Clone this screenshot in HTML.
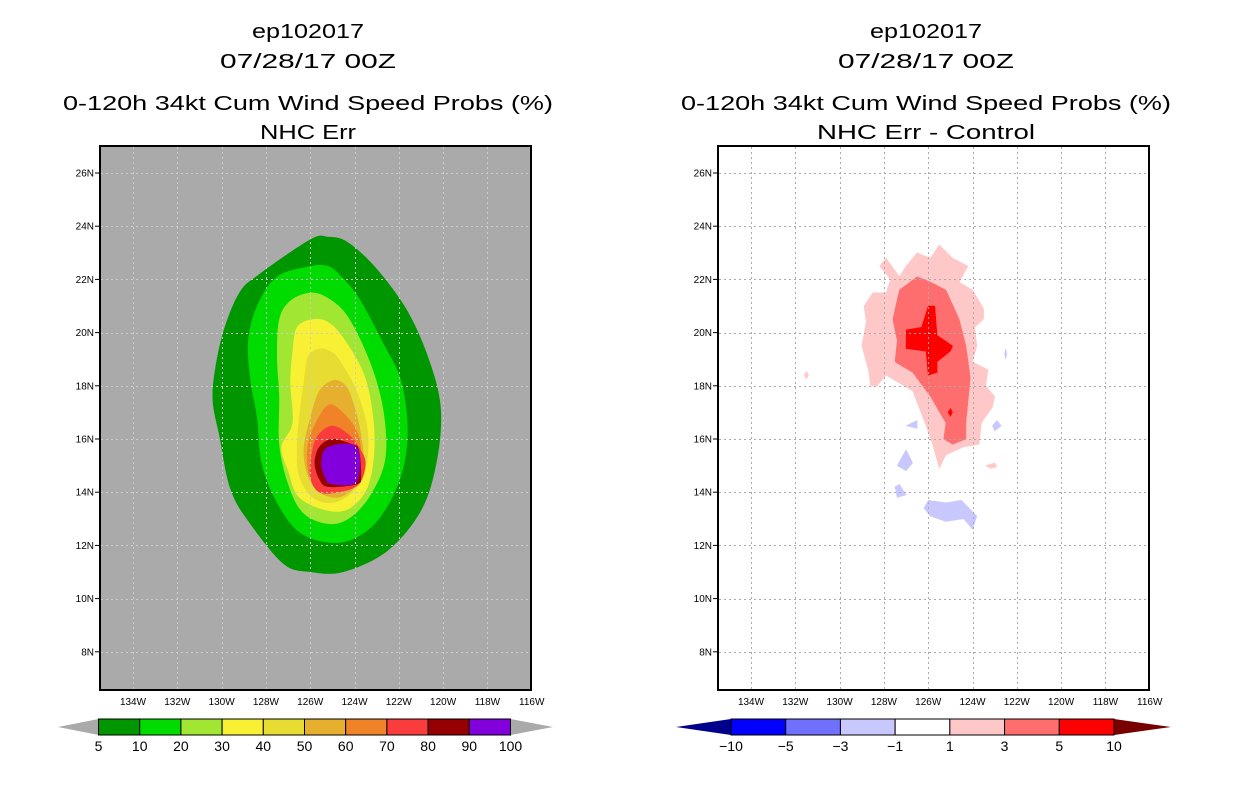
<!DOCTYPE html>
<html><head><meta charset="utf-8">
<style>
html,body{margin:0;padding:0;background:#fff;}
svg{display:block;font-family:"Liberation Sans",sans-serif;}
</style></head>
<body>
<svg id="chart" width="1236" height="800" viewBox="0 0 1236 800" xmlns="http://www.w3.org/2000/svg">
<defs>
<clipPath id="clipL"><rect x="100" y="146" width="431" height="544"/></clipPath>
<clipPath id="clipR"><rect x="718" y="146" width="431" height="544"/></clipPath>
</defs>
<rect width="1236" height="800" fill="#fff"/>
<g font-size="20" fill="#000" text-anchor="middle">
<text x="308" y="38" textLength="112" lengthAdjust="spacingAndGlyphs">ep102017</text>
<text x="308" y="68" textLength="176" lengthAdjust="spacingAndGlyphs">07/28/17 00Z</text>
<text x="308" y="110" textLength="490" lengthAdjust="spacingAndGlyphs">0-120h 34kt Cum Wind Speed Probs (%)</text>
<text x="308" y="139" textLength="96" lengthAdjust="spacingAndGlyphs">NHC Err</text>
</g>
<g font-size="20" fill="#000" text-anchor="middle">
<text x="926" y="38" textLength="112" lengthAdjust="spacingAndGlyphs">ep102017</text>
<text x="926" y="68" textLength="176" lengthAdjust="spacingAndGlyphs">07/28/17 00Z</text>
<text x="926" y="110" textLength="490" lengthAdjust="spacingAndGlyphs">0-120h 34kt Cum Wind Speed Probs (%)</text>
<text x="926" y="139" textLength="218" lengthAdjust="spacingAndGlyphs">NHC Err - Control</text>
</g>
<g id="left-panel"></g>
<g id="right-panel"></g>
<g id="cbars"></g>
</svg>
<script>
const lonTicks = [134,132,130,128,126,124,122,120,118,116];
const latTicks = [26,24,22,20,18,16,14,12,10,8];
const probLevels = [5,10,20,30,40,50,60,70,80,90];
const probColors = ["#009600","#00dc00","#a0e632","#f8f032","#e6dc32","#e6af2d","#f08228","#fa3c3c","#960000","#8200dc"];
const probLabels = ["5","10","20","30","40","50","60","70","80","90","100"];
const c5 = [[126.0,23.5],[128.3,22.2],[129.2,21.5],[129.9,20.1],[130.3,18.6],[130.4,17.4],[130.1,16.1],[129.6,14.1],[128.7,12.8],[127.2,11.3],[126.0,11.0],[124.5,11.0],[122.5,11.8],[121.0,13.3],[120.3,15.1],[120.1,17.1],[120.6,18.9],[121.6,20.8],[123.0,22.4],[124.3,23.4],[125.2,23.6]];
const c10 = [[126.0,22.5],[127.5,22.1],[128.4,21.0],[128.8,19.7],[128.7,18.2],[128.4,16.8],[128.2,15.1],[127.5,13.6],[126.5,12.5],[125.1,12.1],[123.9,12.3],[122.8,13.1],[121.9,14.6],[121.6,16.3],[121.9,18.2],[122.7,19.6],[123.8,21.3],[124.7,22.2],[125.2,22.5]];
const c20 = [[126.0,21.5],[126.9,21.2],[127.4,20.5],[127.5,19.1],[127.4,17.6],[127.4,15.8],[127.0,14.3],[126.3,13.2],[125.1,12.8],[124.1,13.1],[123.2,14.0],[122.6,15.3],[122.7,17.1],[123.3,18.9],[124.3,20.6],[125.2,21.3]];
const c30 = [[125.9,20.5],[126.6,20.2],[126.8,19.3],[126.9,18.1],[126.8,16.6],[127.3,15.7],[127.0,14.8],[126.5,13.8],[125.2,13.3],[124.2,13.4],[123.4,14.2],[123.1,15.6],[123.2,17.1],[123.6,18.5],[124.5,19.8],[125.2,20.4]];
const c40 = [[125.6,19.4],[126.1,19.1],[126.3,18.1],[126.5,16.8],[126.6,15.7],[126.5,14.6],[125.9,13.8],[125.0,13.6],[124.1,14.0],[123.5,14.8],[123.4,16.3],[123.9,17.8],[124.7,19.0],[125.1,19.3]];
const c50 = [[125.0,18.2],[125.6,17.8],[126.0,16.8],[126.3,15.6],[126.1,14.6],[125.6,14.0],[124.7,13.8],[123.9,14.3],[123.6,15.3],[123.8,16.6],[124.2,17.7],[124.5,18.1]];
const c60 = [[125.1,17.3],[125.7,16.7],[126.1,15.8],[126.1,14.8],[125.7,14.2],[124.8,14.0],[124.0,14.3],[123.7,15.1],[123.8,16.1],[124.3,16.8]];
const c70 = [[125.0,16.5],[125.6,16.2],[125.9,15.6],[126.0,14.6],[125.6,14.0],[124.7,14.0],[123.8,14.3],[123.5,15.1],[123.8,15.7],[124.3,16.2]];
const c80 = [[125.0,16.0],[125.6,15.7],[125.8,15.1],[125.6,14.5],[125.2,14.2],[123.9,14.3],[123.7,14.6],[123.8,15.6],[124.1,15.8]];
const c90 = [[125.2,15.7],[125.5,15.1],[125.3,14.5],[125.0,14.3],[123.9,14.4],[123.9,15.7]];
const probContours = [c5,c10,c20,c30,c40,c50,c60,c70,c80,c90];

const diffLabels = ["-10","-5","-3","-1","1","3","5","10"];
const diffColors = ["#00008c","#0000ff","#7070ff","#c8c8ff","#ffffff","#ffc8c8","#ff6e6e","#ff0000","#780000"];
const dPos1 = [[128.2,22.5],[127.9,22.8],[127.3,22.1],[127.0,22.5],[126.5,23.0],[125.9,22.8],[125.5,23.3],[124.9,22.8],[124.2,22.5],[124.6,21.9],[124.0,21.6],[123.5,20.9],[123.5,20.5],[123.9,20.2],[123.8,19.5],[124.0,18.9],[123.3,18.6],[123.4,18.0],[123.0,17.6],[123.1,17.2],[123.6,16.6],[123.7,15.8],[124.4,15.7],[125.2,15.4],[125.5,14.9],[125.8,15.8],[126.1,16.5],[126.7,17.8],[127.9,18.4],[128.3,18.0],[128.6,18.0],[128.7,18.6],[129.0,19.5],[128.8,20.4],[128.9,21.0],[128.5,21.5],[127.9,21.5],[127.7,22.0]];
const dPos1b = [[131.5,18.55],[131.4,18.4],[131.5,18.25],[131.6,18.4]];
const dPos1c = [[123.4,15.0],[123.0,15.1],[122.9,14.95],[123.2,14.9]];
const dPos3 = [[126.5,22.1],[127.3,21.6],[127.6,20.5],[127.4,19.7],[127.5,18.9],[126.7,18.5],[125.9,17.6],[125.2,16.6],[125.3,16.0],[124.9,15.8],[124.3,16.0],[124.3,16.6],[124.1,18.3],[124.3,19.5],[124.6,20.5],[125.2,21.6],[125.9,21.9]];
const dPos5 = [[126.0,21.0],[125.7,21.0],[125.6,19.9],[124.9,19.5],[125.0,19.3],[125.6,18.9],[125.6,18.5],[126.0,18.4],[126.1,19.3],[127.0,19.4],[127.0,20.1],[126.3,20.2]];
const dPos5b = [[125.0,17.15],[124.9,17.0],[125.0,16.85],[125.1,17.0]];
const dNeg1a = [[127.0,16.5],[126.5,16.7],[126.5,16.4]];
const dNeg1b = [[127.4,15.0],[127.0,15.6],[126.7,15.1],[127.0,14.8]];
const dNeg1c = [[127.5,14.2],[127.3,14.3],[127.0,13.9],[127.4,13.8]];
const dNeg1d = [[126.2,13.4],[126.0,13.7],[125.2,13.6],[124.5,13.7],[123.8,13.1],[124.0,12.6],[124.4,13.0],[125.2,12.9],[125.9,13.1]];
const dNeg1e = [[123.1,16.5],[122.9,16.7],[122.7,16.5],[123.0,16.3]];
const dNeg1f = [[122.5,19.4],[122.45,19.2],[122.5,19.0],[122.55,19.2]];
const diffShapes = [[dPos1,5],[dPos1b,5],[dPos1c,5],[dPos3,6],[dPos5,7],[dPos5b,7],[dNeg1a,3],[dNeg1b,3],[dNeg1c,3],[dNeg1d,3],[dNeg1e,3],[dNeg1f,3]];

const NS="http://www.w3.org/2000/svg";
const LON0=135.49, LAT0=27.015, PXLON=22.15, PXLAT=26.6;
function xScale(lon, ox){ return ox + (LON0-lon)*PXLON; }
function yScale(lat){ return 146 + (LAT0-lat)*PXLAT; }
function mk(tag, attrs, parent){ const e=document.createElementNS(NS,tag); for(const k in attrs) e.setAttribute(k,attrs[k]); parent.appendChild(e); return e; }
function polyStr(pts, ox){ return pts.map(p=>xScale(p[0],ox).toFixed(1)+","+yScale(p[1]).toFixed(1)).join(" "); }
function smoothPath(pts, ox){
  const P = pts.map(p=>[xScale(p[0],ox), yScale(p[1])]);
  const n=P.length; let d='M'+P[0][0].toFixed(1)+','+P[0][1].toFixed(1);
  for(let i=0;i<n;i++){
    const p0=P[(i-1+n)%n], p1=P[i], p2=P[(i+1)%n], p3=P[(i+2)%n];
    const c1=[p1[0]+(p2[0]-p0[0])/6, p1[1]+(p2[1]-p0[1])/6];
    const c2=[p2[0]-(p3[0]-p1[0])/6, p2[1]-(p3[1]-p1[1])/6];
    d+=' C'+c1[0].toFixed(1)+','+c1[1].toFixed(1)+' '+c2[0].toFixed(1)+','+c2[1].toFixed(1)+' '+p2[0].toFixed(1)+','+p2[1].toFixed(1);
  }
  return d+'Z';
}

function drawPanel(g, ox, bg, clipId, gridColor, drawContent){
  const r = mk('rect',{x:ox,y:146,width:431,height:544,fill:bg},g);
  
  
  const cg = mk('g',{'clip-path':'url(#'+clipId+')'},g);
  
  
  drawContent(cg);
  const gg = mk('g',{stroke:gridColor,'stroke-width':1,'stroke-dasharray':'2,3'},g);
  
  
  lonTicks.forEach(l=>{ const x=Math.round(xScale(l,ox))+0.5; if(x<ox+429) mk('line',{x1:x,y1:147,x2:x,y2:689},gg); });
  latTicks.forEach(l=>{ const y=Math.round(yScale(l))+0.5; mk('line',{x1:ox+1,y1:y,x2:ox+430,y2:y},gg); });
  const ax = mk('g',{'font-size':10,fill:'#000'},g);
  
  
  latTicks.forEach(l=>{ const y=yScale(l);
    mk('line',{x1:ox-5,y1:y,x2:ox,y2:y,stroke:'#000'},ax);
    const t=mk('text',{x:ox-6,y:y+3.5,'text-anchor':'end'},ax); t.textContent=l+'N';
    
     });
  lonTicks.forEach(l=>{ const x=xScale(l,ox);
    const t=mk('text',{x:x,y:705,'text-anchor':'middle'},ax); t.textContent=l+'W';
    
     });
  const b = mk('rect',{x:ox,y:146,width:431,height:544,fill:'none',stroke:'#000','stroke-width':2},g);
  
  
}

drawPanel(document.getElementById('left-panel'), 100, '#aaaaaa', 'clipL', '#cccccc', cg=>{
  probContours.forEach((c,i)=>{
    const p = mk('path',{d:smoothPath(c,100),fill:probColors[i]},cg);
    
    
  });
});
drawPanel(document.getElementById('right-panel'), 718, '#ffffff', 'clipR', '#aaaaaa', cg=>{
  diffShapes.forEach(s=>{
    const p = mk('polygon',{points:polyStr(s[0],718),fill:diffColors[s[1]],stroke:diffColors[s[1]],'stroke-width':0.5},cg);
    
    
  });
});

function colorbar(x0, x1, tipL, tipR, colors, labels, tipLc, tipRc, name){
  const g = mk('g',{},document.getElementById('cbars'));
  
  
  const y0=719, y1=735, ym=727;
  const tl=mk('polygon',{points:`${tipL},${ym} ${x0},${y0} ${x0},${y1}`,fill:tipLc},g);
  
  
  const tr=mk('polygon',{points:`${tipR},${ym} ${x1},${y0} ${x1},${y1}`,fill:tipRc},g);
  
  
  const n=colors.length, w=(x1-x0)/n;
  colors.forEach((c,i)=>{
    const r=mk('rect',{x:x0+i*w,y:y0,width:w,height:y1-y0,fill:c,stroke:'#000','stroke-width':1},g);
    
    
  });
  labels.forEach((l,i)=>{
    const t=mk('text',{x:x0+i*w,y:751,'text-anchor':'middle','font-size':14,fill:'#000'},g);
    t.textContent=l.replace('-','\u2212');
    
    
  });
}
colorbar(98.5, 510.5, 58, 553, probColors, probLabels, '#aaaaaa', '#aaaaaa', 'probability-colorbar');
colorbar(731, 1114, 676, 1171, diffColors.slice(1,8), diffLabels, diffColors[0], diffColors[8], 'difference-colorbar');
</script>
</body></html>
